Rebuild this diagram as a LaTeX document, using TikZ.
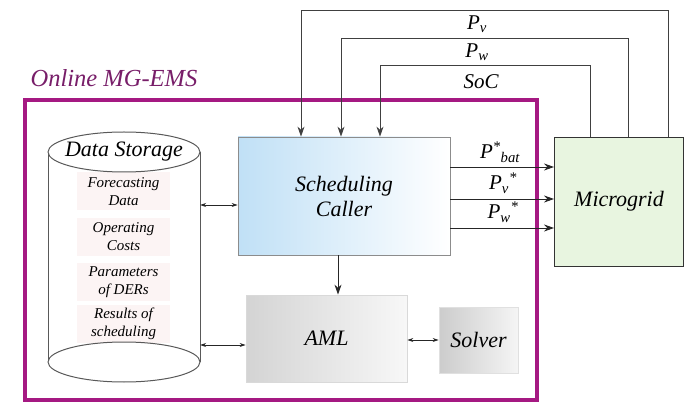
\documentclass[tikz,border=0pt]{standalone}
\usepackage{fontspec}
\setmainfont{Liberation Serif}
\usetikzlibrary{arrows.meta}
\definecolor{frame}{RGB}{165,25,130}
\definecolor{titlec}{RGB}{120,30,105}
\definecolor{scblue}{RGB}{192,224,246}
\definecolor{mggreen}{RGB}{232,245,224}
\definecolor{dsfill}{RGB}{252,244,244}
\begin{document}
\begin{tikzpicture}[x=1pt,y=-1pt,
  arr/.style={-{Stealth[length=10pt,width=7pt]}, line width=0.9pt, black!85},
  dbl/.style={{Stealth[length=6pt,width=4pt]}-{Stealth[length=6pt,width=4pt]}, line width=0.8pt, black!85},
  fb/.style={-{Stealth[length=10pt,width=7pt]}, line width=0.8pt, black!75},
  lbl/.style={font=\itshape\fontsize{21}{21}\selectfont, inner sep=0pt},
  big/.style={font=\itshape\fontsize{22}{25}\selectfont, align=center},
  dsbox/.style={font=\itshape\fontsize{15}{18}\selectfont, fill=dsfill, minimum width=93pt, minimum height=38pt, align=center, inner sep=0pt},
  cyl/.style={draw=black!65, line width=1pt},
]
\useasboundingbox (0,0) rectangle (685,403);
% title and frame
\node[font=\itshape\fontsize{24.5}{26}\selectfont, text=titlec, inner sep=0pt] (title) at (114,78) {Online MG-EMS};
\node[draw=frame, line width=4pt, minimum width=512pt, minimum height=300pt, inner sep=0pt] (ems) at (281,250) {};
% cylinder
\node[minimum width=152pt, minimum height=250pt, inner sep=0pt] (ds) at (124,257) {};
\draw[cyl] (48,152) -- (48,362);
\draw[cyl] (200,152) -- (200,362);
\node[dsbox] (b1) at (123.5,191.5) {Forecasting\\Data};
\node[dsbox] (b2) at (123.5,237) {Operating\\Costs};
\node[dsbox] (b3) at (123.5,282) {Parameters\\of DERs};
\node[dsbox] (b4) at (123.5,324) {Results of\\scheduling};
\draw[cyl, fill=white] (124,152) ellipse [x radius=76, y radius=20];
\draw[cyl, fill=white] (124,362) ellipse [x radius=76, y radius=20];
\node[big, inner sep=0pt] (dstitle) at (124,152) {Data Storage};
% boxes
\node[big, draw=black!45, line width=0.8pt, left color=scblue, right color=white, minimum width=212pt, minimum height=118pt] (sc) at (344,196) {Scheduling\\Caller};
\node[big, draw=black!15, line width=0.8pt, left color=black!17, right color=black!3, minimum width=161pt, minimum height=87pt] (aml) at (326.5,338.5) {AML};
\node[big, draw=black!12, line width=0.8pt, left color=black!20, right color=black!4, minimum width=79pt, minimum height=66pt] (solver) at (478.5,340) {Solver};
\node[big, draw=black!80, line width=0.9pt, fill=mggreen, minimum width=129pt, minimum height=129pt] (mg) at (619,201.5) {Microgrid};
% arrows
\draw[dbl] (ds.east |- 0,205) -- (sc.west |- 0,205);
\draw[dbl] (ds.east |- 0,345) -- (aml.west |- 0,345);
\draw[arr] (sc.south -| 338,0) -- (aml.north -| 338,0);
\draw[dbl] (aml.east |- 0,340) -- (solver.west |- 0,340);
\draw[arr] (sc.east |- 0,167) -- (mg.west |- 0,167);
\draw[arr] (sc.east |- 0,199) -- (mg.west |- 0,199);
\draw[arr] (sc.east |- 0,228) -- (mg.west |- 0,228);
\node[lbl] (lb1) at (500,152) {P\textsuperscript{*}\textsubscript{bat}};
\node[lbl] (lb2) at (503,183) {P\textsubscript{v}\textsuperscript{*}};
\node[lbl] (lb3) at (503,212) {P\textsubscript{w}\textsuperscript{*}};
% feedback
\coordinate (c1) at (380,65);
\coordinate (c2) at (341,38);
\coordinate (c3) at (301,10);
\draw[fb] (mg.north -| 590,0) |- (c1) -- (sc.north -| c1);
\draw[fb] (mg.north -| 628,0) |- (c2) -- (sc.north -| c2);
\draw[fb] (mg.north -| 668,0) |- (c3) -- (sc.north -| c3);
\node[lbl] (lv) at (477,24) {P\textsubscript{v}};
\node[lbl] (lw) at (477,52) {P\textsubscript{w}};
\node[lbl] (ls) at (481,82) {SoC};
\end{tikzpicture}
\end{document}
